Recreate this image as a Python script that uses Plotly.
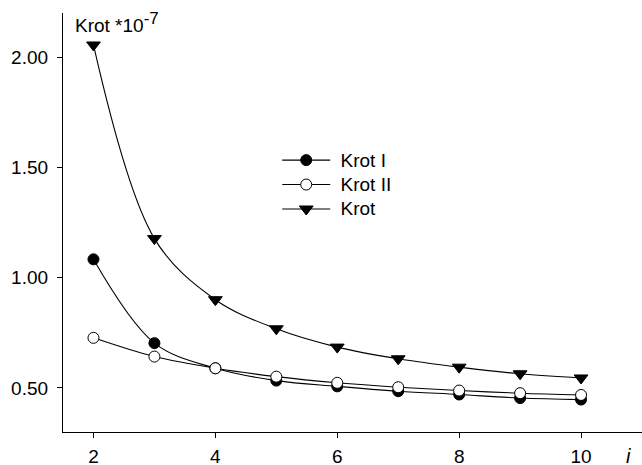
import plotly.graph_objects as go

i_vals = [2, 3, 4, 5, 6, 7, 8, 9, 10]
krot_I = [1.083, 0.703, 0.589, 0.533, 0.507, 0.485, 0.470, 0.454, 0.447]
krot_II = [0.727, 0.642, 0.589, 0.551, 0.523, 0.503, 0.488, 0.476, 0.468]
krot = [2.055, 1.177, 0.900, 0.768, 0.685, 0.632, 0.594, 0.564, 0.545]

y_ticks = [0.5, 1.0, 1.5, 2.0]
x_ticks = [2, 4, 6, 8, 10]
names = ["Krot I", "Krot II", "Krot"]

FONT = "Arial, Liberation Sans, sans-serif"


def big(t):
    return '<span style="font-size:19px">&nbsp;' + t + '</span>'


fig = go.Figure()
fig.add_trace(go.Scatter(
    x=i_vals, y=krot_I, name=big(names[0]), mode="lines+markers",
    line=dict(color="black", width=1.1, shape="spline"),
    marker=dict(symbol="circle", size=11, color="black", line=dict(color="black", width=1)),
))
fig.add_trace(go.Scatter(
    x=i_vals, y=krot_II, name=big(names[1]), mode="lines+markers",
    line=dict(color="black", width=1.1, shape="spline"),
    marker=dict(symbol="circle", size=11, color="white", line=dict(color="black", width=1)),
))
fig.add_trace(go.Scatter(
    x=i_vals, y=krot, name=big(names[2]), mode="lines+markers",
    line=dict(color="black", width=1.1, shape="spline"),
    marker=dict(symbol="triangle-down", size=12, color="black", line=dict(color="black", width=1)),
))

fig.update_layout(
    width=642, height=465,
    margin=dict(l=63, r=0, t=13, b=33, autoexpand=False),
    paper_bgcolor="white", plot_bgcolor="white",
    font=dict(family=FONT, size=19, color="black"),
    showlegend=True,
    legend=dict(x=0.37, y=0.69, xanchor="left", yanchor="top",
                bgcolor="rgba(0,0,0,0)", font=dict(size=16.5),
                itemwidth=48, tracegroupgap=0),
    xaxis=dict(range=[1.5, 11], tickvals=x_ticks, ticks="outside", ticklen=5,
               tickcolor="black", showline=True, linecolor="black", linewidth=1.2,
               showgrid=False, zeroline=False, ticklabelstandoff=2, automargin=False),
    yaxis=dict(range=[0.3, 2.2], tickvals=y_ticks, tickformat=".2f", ticks="outside",
               ticklen=5, tickcolor="black", showline=True, linecolor="black",
               linewidth=1.2, showgrid=False, zeroline=False, ticklabelstandoff=5,
               automargin=False),
    annotations=[
        dict(text='Krot *10<sup><span style="font-size:17px">-7</span></sup>',
             xref="paper", yref="paper",
             x=0.017, y=0.977, xanchor="left", yanchor="middle", showarrow=False,
             font=dict(size=19)),
        dict(text="<i>i</i>", xref="paper", yref="paper",
             x=0.977, y=-0.058, xanchor="center", yanchor="middle", showarrow=False,
             font=dict(size=20)),
    ],
)

fig.write_html("out.html", config={"displayModeBar": False},
               post_script="document.body.style.margin='0px';")
